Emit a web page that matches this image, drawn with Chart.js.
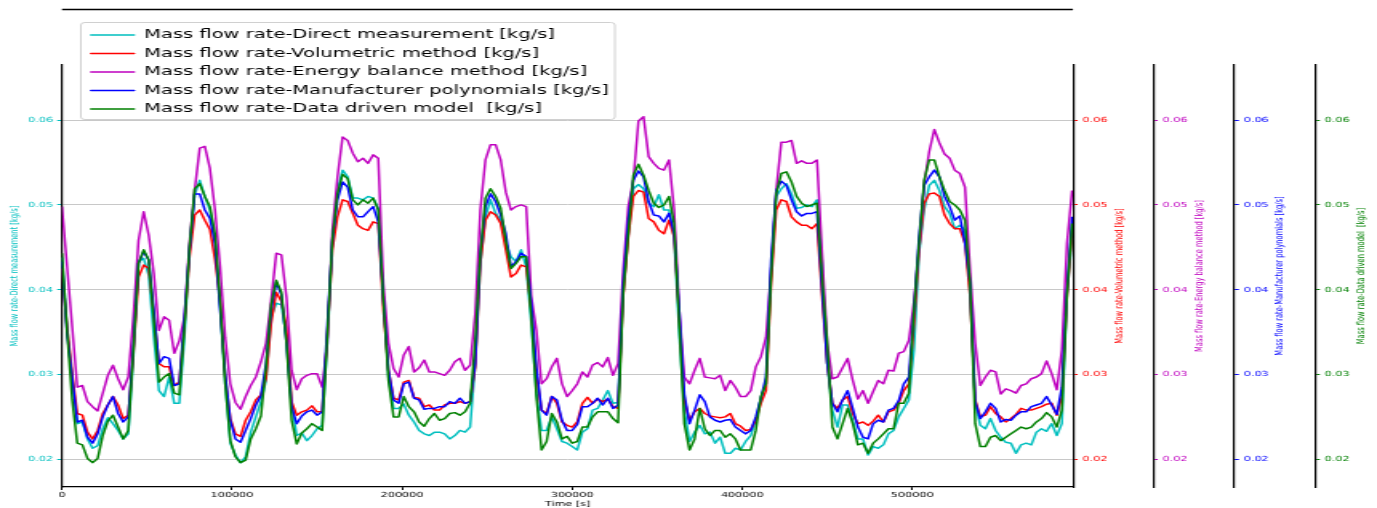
<!DOCTYPE html>
<html>
<head>
<meta charset="utf-8">
<script src="https://cdn.jsdelivr.net/npm/chart.js@4.4.1/dist/chart.umd.min.js"></script>
<style>
  html, body { margin: 0; padding: 0; background: #fff; overflow: hidden; }
  #wrap { width: 1377px; height: 508px; overflow: hidden; }
  /* the picture is a figure stretched sideways, so draw narrow and stretch */
  #chart { transform: scaleX(1.601163); transform-origin: 0 0; }
</style>
</head>
<body>
<div id="wrap"><canvas id="chart" width="860" height="508"></canvas></div>
<script>
// time [s]
const timeS = [
  0, 3000, 6000, 9000, 12000, 15000, 18000, 21000, 24000, 27000,
  30000, 33000, 36000, 39000, 42000, 45000, 48000, 51000, 54000, 57000,
  60000, 63000, 66000, 69000, 72000, 75000, 78000, 81000, 84000, 87000,
  90000, 93000, 96000, 99000, 102000, 105000, 108000, 111000, 114000, 117000,
  120000, 123000, 126000, 129000, 132000, 135000, 138000, 141000, 144000, 147000,
  150000, 153000, 156000, 159000, 162000, 165000, 168000, 171000, 174000, 177000,
  180000, 183000, 186000, 189000, 192000, 195000, 198000, 201000, 204000, 207000,
  210000, 213000, 216000, 219000, 222000, 225000, 228000, 231000, 234000, 237000,
  240000, 243000, 246000, 249000, 252000, 255000, 258000, 261000, 264000, 267000,
  270000, 273000, 276000, 279000, 282000, 285000, 288000, 291000, 294000, 297000,
  300000, 303000, 306000, 309000, 312000, 315000, 318000, 321000, 324000, 327000,
  330000, 333000, 336000, 339000, 342000, 345000, 348000, 351000, 354000, 357000,
  360000, 363000, 366000, 369000, 372000, 375000, 378000, 381000, 384000, 387000,
  390000, 393000, 396000, 399000, 402000, 405000, 408000, 411000, 414000, 417000,
  420000, 423000, 426000, 429000, 432000, 435000, 438000, 441000, 444000, 447000,
  450000, 453000, 456000, 459000, 462000, 465000, 468000, 471000, 474000, 477000,
  480000, 483000, 486000, 489000, 492000, 495000, 498000, 501000, 504000, 507000,
  510000, 513000, 516000, 519000, 522000, 525000, 528000, 531000, 534000, 537000,
  540000, 543000, 546000, 549000, 552000, 555000, 558000, 561000, 564000, 567000,
  570000, 573000, 576000, 579000, 582000, 585000, 588000, 591000, 594000
];

// mass flow rate [kg/s]
const directMeas = [
  0.0438, 0.0356, 0.0293, 0.0242, 0.0244, 0.0224, 0.0213, 0.0216, 0.0236, 0.0249,
  0.0242, 0.0234, 0.0224, 0.0230, 0.0321, 0.0433, 0.0437, 0.0417, 0.0344, 0.0281,
  0.0274, 0.0297, 0.0266, 0.0266, 0.0344, 0.0449, 0.0512, 0.0529, 0.0510, 0.0494,
  0.0458, 0.0380, 0.0289, 0.0219, 0.0205, 0.0196, 0.0203, 0.0232, 0.0250, 0.0268,
  0.0293, 0.0368, 0.0384, 0.0382, 0.0344, 0.0266, 0.0228, 0.0231, 0.0222, 0.0228,
  0.0236, 0.0240, 0.0337, 0.0455, 0.0517, 0.0541, 0.0533, 0.0508, 0.0508, 0.0506,
  0.0510, 0.0508, 0.0496, 0.0392, 0.0297, 0.0260, 0.0260, 0.0265, 0.0252, 0.0244,
  0.0234, 0.0230, 0.0228, 0.0232, 0.0232, 0.0230, 0.0224, 0.0228, 0.0234, 0.0232,
  0.0238, 0.0313, 0.0431, 0.0486, 0.0506, 0.0490, 0.0482, 0.0455, 0.0439, 0.0433,
  0.0447, 0.0427, 0.0360, 0.0278, 0.0234, 0.0234, 0.0250, 0.0236, 0.0221, 0.0219,
  0.0215, 0.0211, 0.0232, 0.0236, 0.0258, 0.0260, 0.0270, 0.0281, 0.0266, 0.0267,
  0.0395, 0.0464, 0.0519, 0.0524, 0.0519, 0.0502, 0.0498, 0.0512, 0.0494, 0.0494,
  0.0462, 0.0348, 0.0258, 0.0221, 0.0232, 0.0240, 0.0230, 0.0232, 0.0219, 0.0226,
  0.0207, 0.0207, 0.0213, 0.0211, 0.0221, 0.0228, 0.0246, 0.0272, 0.0289, 0.0423,
  0.0510, 0.0519, 0.0525, 0.0513, 0.0496, 0.0497, 0.0500, 0.0498, 0.0506, 0.0433,
  0.0313, 0.0258, 0.0238, 0.0264, 0.0264, 0.0246, 0.0224, 0.0224, 0.0205, 0.0215,
  0.0213, 0.0217, 0.0230, 0.0234, 0.0250, 0.0260, 0.0270, 0.0329, 0.0443, 0.0494,
  0.0523, 0.0529, 0.0517, 0.0498, 0.0490, 0.0472, 0.0476, 0.0470, 0.0395, 0.0266,
  0.0240, 0.0236, 0.0248, 0.0234, 0.0226, 0.0220, 0.0219, 0.0207, 0.0217, 0.0219,
  0.0217, 0.0232, 0.0236, 0.0233, 0.0242, 0.0228, 0.0242, 0.0395, 0.0461
];
const volumetric = [
  0.0425, 0.0356, 0.0301, 0.0254, 0.0252, 0.0232, 0.0224, 0.0234, 0.0254, 0.0264,
  0.0274, 0.0264, 0.0248, 0.0252, 0.0325, 0.0415, 0.0429, 0.0425, 0.0372, 0.0313,
  0.0309, 0.0309, 0.0287, 0.0291, 0.0360, 0.0439, 0.0488, 0.0494, 0.0482, 0.0471,
  0.0435, 0.0388, 0.0297, 0.0248, 0.0230, 0.0227, 0.0246, 0.0256, 0.0270, 0.0276,
  0.0295, 0.0360, 0.0397, 0.0386, 0.0356, 0.0268, 0.0252, 0.0256, 0.0258, 0.0263,
  0.0256, 0.0256, 0.0345, 0.0447, 0.0486, 0.0506, 0.0504, 0.0490, 0.0476, 0.0472,
  0.0470, 0.0480, 0.0478, 0.0376, 0.0305, 0.0272, 0.0270, 0.0291, 0.0293, 0.0273,
  0.0272, 0.0262, 0.0264, 0.0258, 0.0258, 0.0264, 0.0266, 0.0266, 0.0268, 0.0266,
  0.0268, 0.0309, 0.0431, 0.0482, 0.0492, 0.0488, 0.0478, 0.0447, 0.0415, 0.0419,
  0.0429, 0.0427, 0.0376, 0.0301, 0.0258, 0.0254, 0.0274, 0.0266, 0.0244, 0.0240,
  0.0238, 0.0244, 0.0266, 0.0273, 0.0266, 0.0271, 0.0268, 0.0271, 0.0262, 0.0260,
  0.0392, 0.0462, 0.0510, 0.0517, 0.0515, 0.0484, 0.0480, 0.0470, 0.0466, 0.0482,
  0.0462, 0.0368, 0.0270, 0.0246, 0.0256, 0.0260, 0.0254, 0.0251, 0.0250, 0.0249,
  0.0250, 0.0254, 0.0242, 0.0239, 0.0234, 0.0235, 0.0246, 0.0266, 0.0281, 0.0407,
  0.0494, 0.0506, 0.0504, 0.0486, 0.0480, 0.0476, 0.0476, 0.0472, 0.0478, 0.0392,
  0.0313, 0.0266, 0.0260, 0.0270, 0.0274, 0.0254, 0.0242, 0.0244, 0.0240, 0.0245,
  0.0252, 0.0244, 0.0256, 0.0258, 0.0266, 0.0281, 0.0289, 0.0360, 0.0447, 0.0502,
  0.0513, 0.0514, 0.0510, 0.0488, 0.0478, 0.0472, 0.0472, 0.0455, 0.0392, 0.0270,
  0.0250, 0.0252, 0.0262, 0.0254, 0.0250, 0.0244, 0.0248, 0.0253, 0.0260, 0.0258,
  0.0258, 0.0260, 0.0262, 0.0265, 0.0266, 0.0252, 0.0274, 0.0392, 0.0470
];
const energyBal = [
  0.0498, 0.0427, 0.0356, 0.0285, 0.0287, 0.0268, 0.0262, 0.0257, 0.0278, 0.0299,
  0.0311, 0.0295, 0.0282, 0.0297, 0.0368, 0.0458, 0.0492, 0.0464, 0.0419, 0.0352,
  0.0368, 0.0364, 0.0325, 0.0340, 0.0368, 0.0455, 0.0517, 0.0567, 0.0569, 0.0543,
  0.0494, 0.0427, 0.0344, 0.0289, 0.0267, 0.0259, 0.0274, 0.0287, 0.0297, 0.0315,
  0.0337, 0.0387, 0.0443, 0.0441, 0.0391, 0.0305, 0.0282, 0.0295, 0.0299, 0.0301,
  0.0301, 0.0285, 0.0337, 0.0470, 0.0533, 0.0580, 0.0576, 0.0561, 0.0551, 0.0555,
  0.0549, 0.0559, 0.0555, 0.0407, 0.0337, 0.0307, 0.0297, 0.0323, 0.0333, 0.0303,
  0.0308, 0.0317, 0.0303, 0.0303, 0.0301, 0.0299, 0.0305, 0.0315, 0.0319, 0.0305,
  0.0311, 0.0372, 0.0494, 0.0553, 0.0571, 0.0571, 0.0553, 0.0515, 0.0494, 0.0498,
  0.0500, 0.0498, 0.0392, 0.0352, 0.0289, 0.0295, 0.0309, 0.0319, 0.0289, 0.0274,
  0.0281, 0.0289, 0.0303, 0.0297, 0.0311, 0.0314, 0.0309, 0.0320, 0.0299, 0.0313,
  0.0423, 0.0498, 0.0529, 0.0599, 0.0604, 0.0557, 0.0549, 0.0543, 0.0541, 0.0553,
  0.0494, 0.0376, 0.0297, 0.0289, 0.0305, 0.0319, 0.0297, 0.0296, 0.0295, 0.0299,
  0.0281, 0.0293, 0.0285, 0.0274, 0.0274, 0.0281, 0.0309, 0.0321, 0.0344, 0.0423,
  0.0517, 0.0574, 0.0574, 0.0576, 0.0549, 0.0552, 0.0549, 0.0549, 0.0553, 0.0443,
  0.0337, 0.0295, 0.0297, 0.0308, 0.0319, 0.0293, 0.0271, 0.0281, 0.0266, 0.0280,
  0.0293, 0.0289, 0.0305, 0.0304, 0.0325, 0.0327, 0.0340, 0.0386, 0.0447, 0.0525,
  0.0563, 0.0589, 0.0573, 0.0560, 0.0555, 0.0541, 0.0537, 0.0521, 0.0423, 0.0337,
  0.0287, 0.0297, 0.0305, 0.0303, 0.0277, 0.0283, 0.0281, 0.0278, 0.0287, 0.0289,
  0.0295, 0.0297, 0.0301, 0.0316, 0.0301, 0.0282, 0.0329, 0.0455, 0.0517
];
const manufPoly = [
  0.0433, 0.0348, 0.0297, 0.0244, 0.0246, 0.0226, 0.0219, 0.0230, 0.0250, 0.0264,
  0.0274, 0.0254, 0.0244, 0.0250, 0.0333, 0.0431, 0.0445, 0.0435, 0.0376, 0.0313,
  0.0321, 0.0319, 0.0287, 0.0289, 0.0368, 0.0447, 0.0513, 0.0513, 0.0494, 0.0484,
  0.0454, 0.0376, 0.0301, 0.0246, 0.0224, 0.0220, 0.0234, 0.0248, 0.0264, 0.0275,
  0.0313, 0.0376, 0.0409, 0.0394, 0.0337, 0.0262, 0.0242, 0.0251, 0.0256, 0.0258,
  0.0252, 0.0256, 0.0356, 0.0458, 0.0506, 0.0527, 0.0521, 0.0494, 0.0486, 0.0486,
  0.0492, 0.0498, 0.0480, 0.0388, 0.0305, 0.0270, 0.0266, 0.0289, 0.0291, 0.0272,
  0.0270, 0.0259, 0.0260, 0.0260, 0.0262, 0.0262, 0.0268, 0.0266, 0.0272, 0.0266,
  0.0268, 0.0313, 0.0443, 0.0498, 0.0513, 0.0504, 0.0488, 0.0466, 0.0427, 0.0433,
  0.0443, 0.0439, 0.0384, 0.0309, 0.0258, 0.0252, 0.0274, 0.0270, 0.0246, 0.0234,
  0.0234, 0.0241, 0.0262, 0.0262, 0.0266, 0.0272, 0.0264, 0.0272, 0.0260, 0.0264,
  0.0407, 0.0482, 0.0529, 0.0540, 0.0533, 0.0504, 0.0488, 0.0487, 0.0480, 0.0490,
  0.0466, 0.0376, 0.0277, 0.0242, 0.0258, 0.0276, 0.0268, 0.0250, 0.0246, 0.0244,
  0.0246, 0.0247, 0.0238, 0.0234, 0.0230, 0.0234, 0.0250, 0.0272, 0.0297, 0.0435,
  0.0517, 0.0528, 0.0523, 0.0506, 0.0492, 0.0487, 0.0490, 0.0490, 0.0492, 0.0400,
  0.0313, 0.0266, 0.0256, 0.0270, 0.0281, 0.0260, 0.0238, 0.0226, 0.0224, 0.0242,
  0.0246, 0.0244, 0.0258, 0.0260, 0.0269, 0.0289, 0.0297, 0.0376, 0.0462, 0.0523,
  0.0533, 0.0541, 0.0533, 0.0510, 0.0498, 0.0482, 0.0487, 0.0455, 0.0407, 0.0268,
  0.0248, 0.0256, 0.0266, 0.0260, 0.0244, 0.0247, 0.0246, 0.0252, 0.0256, 0.0256,
  0.0262, 0.0264, 0.0266, 0.0274, 0.0264, 0.0253, 0.0285, 0.0400, 0.0486
];
const dataDriven = [
  0.0443, 0.0350, 0.0270, 0.0219, 0.0217, 0.0201, 0.0196, 0.0201, 0.0228, 0.0245,
  0.0252, 0.0238, 0.0224, 0.0234, 0.0329, 0.0431, 0.0447, 0.0435, 0.0364, 0.0291,
  0.0297, 0.0301, 0.0278, 0.0276, 0.0356, 0.0451, 0.0519, 0.0525, 0.0510, 0.0498,
  0.0466, 0.0386, 0.0289, 0.0222, 0.0203, 0.0196, 0.0199, 0.0224, 0.0236, 0.0251,
  0.0309, 0.0382, 0.0411, 0.0397, 0.0337, 0.0246, 0.0218, 0.0231, 0.0236, 0.0242,
  0.0238, 0.0234, 0.0345, 0.0460, 0.0513, 0.0536, 0.0531, 0.0506, 0.0500, 0.0506,
  0.0502, 0.0508, 0.0494, 0.0388, 0.0293, 0.0250, 0.0250, 0.0274, 0.0262, 0.0256,
  0.0244, 0.0239, 0.0248, 0.0254, 0.0246, 0.0248, 0.0254, 0.0255, 0.0252, 0.0256,
  0.0266, 0.0340, 0.0443, 0.0508, 0.0519, 0.0510, 0.0496, 0.0458, 0.0425, 0.0431,
  0.0439, 0.0439, 0.0368, 0.0274, 0.0211, 0.0221, 0.0254, 0.0244, 0.0224, 0.0227,
  0.0219, 0.0221, 0.0238, 0.0238, 0.0250, 0.0256, 0.0256, 0.0256, 0.0248, 0.0243,
  0.0395, 0.0466, 0.0535, 0.0548, 0.0535, 0.0517, 0.0502, 0.0497, 0.0500, 0.0510,
  0.0478, 0.0360, 0.0242, 0.0211, 0.0224, 0.0260, 0.0236, 0.0228, 0.0234, 0.0234,
  0.0226, 0.0230, 0.0224, 0.0211, 0.0211, 0.0211, 0.0234, 0.0274, 0.0289, 0.0415,
  0.0513, 0.0537, 0.0539, 0.0527, 0.0510, 0.0502, 0.0498, 0.0500, 0.0502, 0.0415,
  0.0337, 0.0238, 0.0224, 0.0242, 0.0260, 0.0242, 0.0217, 0.0219, 0.0207, 0.0219,
  0.0224, 0.0230, 0.0236, 0.0236, 0.0266, 0.0266, 0.0278, 0.0376, 0.0455, 0.0529,
  0.0553, 0.0553, 0.0533, 0.0517, 0.0504, 0.0500, 0.0494, 0.0482, 0.0407, 0.0242,
  0.0215, 0.0215, 0.0226, 0.0228, 0.0222, 0.0226, 0.0230, 0.0234, 0.0238, 0.0236,
  0.0238, 0.0244, 0.0248, 0.0255, 0.0250, 0.0238, 0.0258, 0.0395, 0.0478
];

const seriesLabels = [
  'Mass flow rate-Direct measurement [kg/s]',
  'Mass flow rate-Volumetric method [kg/s]',
  'Mass flow rate-Energy balance method [kg/s]',
  'Mass flow rate-Manufacturer polynomials [kg/s]',
  'Mass flow rate-Data driven model  [kg/s]'
];
const seriesColors = ['#00bfbf', '#ff0000', '#bf00bf', '#0000ff', '#008000'];
const seriesValues = [directMeas, volumetric, energyBal, manufPoly, dataDriven];
const axisIds = ['y', 'yVol', 'yEnergy', 'yManuf', 'yData'];
const yTickValues = [0.02, 0.03, 0.04, 0.05, 0.06];
const xTickValues = [0, 100000, 200000, 300000, 400000, 500000];

Chart.defaults.font.family = "'DejaVu Sans', sans-serif";
Chart.defaults.color = '#000';

const yMin = 0.01673, yMax = 0.0665;

// widths of the axis boxes (before stretching)
const axisWidths = { y: 38.7, yVol: 50, yEnergy: 50.6, yManuf: 50.6, yData: 38.7 };

function yAxis(id, idx) {
  const left = id === 'y';
  return {
    type: 'linear',
    position: left ? 'left' : 'right',
    min: yMin,
    max: yMax,
    afterFit: (s) => { s.width = axisWidths[id]; },
    afterBuildTicks: (s) => { s.ticks = yTickValues.map(v => ({ value: v })); },
    ticks: {
      color: seriesColors[idx],
      font: { size: 7 },
      padding: left ? 2.5 : 3,
      callback: (v) => v.toFixed(2)
    },
    grid: {
      drawOnChartArea: left,
      color: '#c8c8c8',
      lineWidth: 1,
      drawTicks: true,
      tickLength: 3,
      tickColor: seriesColors[idx],
      tickWidth: 1
    },
    border: { display: true, color: '#000', width: 1.2 },
    title: {
      display: left,
      text: seriesLabels[idx],
      color: seriesColors[idx],
      font: { size: 6.7 },
      padding: { top: 5.4, bottom: 0 }
    }
  };
}

const scales = {
  x: {
    type: 'linear',
    min: 0,
    max: 594500,
    afterFit: (s) => { s.height = 21; },
    afterBuildTicks: (s) => { s.ticks = xTickValues.map(v => ({ value: v })); },
    ticks: {
      autoSkip: false,
      maxRotation: 0,
      font: { size: 7 },
      color: '#000',
      padding: 1,
      callback: (v) => String(v)
    },
    grid: { drawOnChartArea: false, drawTicks: true, tickLength: 3, tickColor: '#000', lineWidth: 1 },
    border: { display: true, color: '#000', width: 1.2 },
    title: { display: true, text: 'Time [s]', color: '#000', font: { size: 7 }, padding: { top: 0, bottom: 0 } }
  }
};
axisIds.forEach((id, i) => { scales[id] = yAxis(id, i); });

const datasets = seriesValues.map((vals, i) => ({
  label: seriesLabels[i],
  data: timeS.map((t, k) => ({ x: t, y: vals[k] })),
  yAxisID: axisIds[i],
  borderColor: seriesColors[i],
  backgroundColor: seriesColors[i],
  borderWidth: 1.5,
  borderJoinStyle: 'round',
  pointRadius: 0,
  tension: 0,
  fill: false,
  order: 5 - i   // later series on top, like the original
}));

const extras = {
  id: 'extras',
  afterLayout(chart) {
    // legend floats over the top-left corner
    const lg = chart.legend;
    lg.left = 50.5;
    lg.top = 22.6;
    lg.right = lg.left + lg.width;
    lg.bottom = lg.top + lg.height;
  },
  beforeDraw(chart) {
    const ctx = chart.ctx;
    ctx.save();
    ctx.beginPath();
    ctx.roundRect(50.5, 22.5, 333.5, 97, 2.5);
    ctx.fillStyle = 'rgba(255,255,255,0.8)';
    ctx.fill();
    ctx.strokeStyle = '#d0d0d0';
    ctx.lineWidth = 1;
    ctx.stroke();
    ctx.restore();
  },
  afterDraw(chart) {
    const ctx = chart.ctx;
    const ca = chart.chartArea;
    ctx.save();
    ctx.strokeStyle = '#000';
    ctx.lineWidth = 1.6;
    ctx.beginPath();
    ctx.moveTo(ca.left, 9.5);
    ctx.lineTo(ca.right, 9.5);
    ctx.stroke();

    // titles of the right-hand axes, read bottom to top
    ctx.font = "6.7px 'DejaVu Sans', sans-serif";
    ctx.textAlign = 'center';
    ctx.textBaseline = 'middle';
    axisIds.slice(1).forEach((id, k) => {
      const s = chart.scales[id];
      ctx.save();
      ctx.translate(s.left + 29, (s.top + s.bottom) / 2);
      ctx.rotate(-Math.PI / 2);
      ctx.fillStyle = seriesColors[k + 1];
      ctx.fillText(seriesLabels[k + 1], 0, 0);
      ctx.restore();
    });
    ctx.restore();
  }
};

new Chart(document.getElementById('chart'), {
  type: 'line',
  data: { datasets },
  options: {
    responsive: false,
    animation: false,
    devicePixelRatio: 1,
    layout: { padding: { top: 65, left: 0, right: 0, bottom: 0 } },
    scales,
    plugins: {
      legend: {
        position: 'chartArea',
        align: 'start',
        maxHeight: 105,
        labels: {
          font: { size: 12.2 },
          color: '#000',
          boxWidth: 27,
          boxHeight: 0,
          padding: 6.3,
          sort: (a, b) => a.datasetIndex - b.datasetIndex
        }
      },
      tooltip: { enabled: false }
    }
  },
  plugins: [extras]
});
</script>
</body>
</html>
